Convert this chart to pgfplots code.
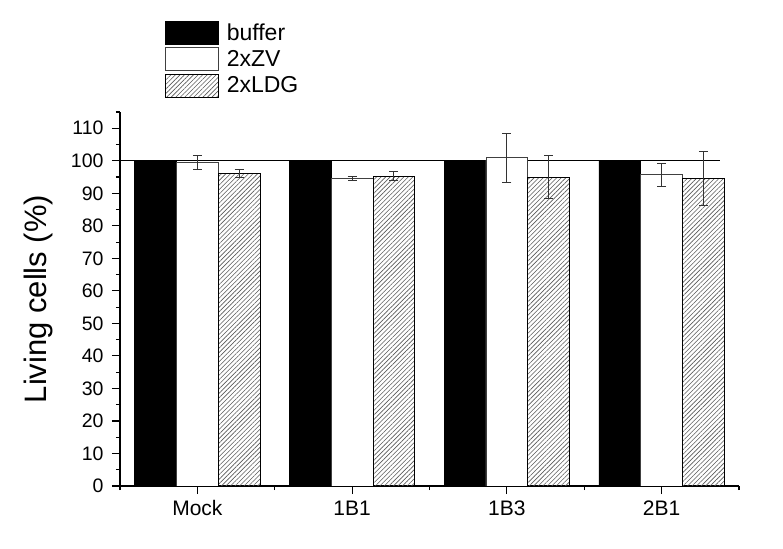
\documentclass[border=0pt]{standalone}
\usepackage{pgfplots}
\pgfplotsset{compat=1.18}
\usepackage{fontspec}
\setmainfont{Liberation Sans}
\usetikzlibrary{patterns.meta}

\begin{document}
\begin{tikzpicture}
\begin{axis}[
  scale only axis,
  width=619bp, height=374bp,
  xmin=-0.5, xmax=3.5, ymin=0, ymax=115,
  axis x line*=bottom, axis y line*=left,
  axis line style={line width=1.1bp, black, -},
  xtick={0,1,2,3}, xticklabels={Mock,1B1,1B3,2B1},
  minor xtick={-0.5,0.5,1.5,2.5,3.5},
  ytick={0,10,...,110}, minor ytick={5,15,...,115},
  tick align=outside,
  major tick length=8bp, minor tick length=4bp,
  every tick/.style={line width=1.1bp, black},
  /pgf/number format/assume math mode=true,
  yticklabel style={font=\fontsize{19.5bp}{22bp}\selectfont, xshift=-5bp},
  xticklabel style={font=\fontsize{21bp}{24bp}\selectfont, inner sep=0pt,
    text height=15bp, text depth=0pt, yshift=-6bp},
  ylabel={Living cells (\%)},
  ylabel style={font=\fontsize{31bp}{34bp}\selectfont, at={(axis description cs:-0.131,0.5)}, anchor=center},
  legend style={draw=none, fill=none, inner sep=0pt, outer sep=0pt,
    at={(axis description cs:0.0727,1.243)}, anchor=north west,
    row sep=2.5bp, column sep=8bp,
    nodes={inner sep=0pt, font=\fontsize{23bp}{26bp}\selectfont}},
  legend cell align=left,
  legend image code/.code={\draw[#1] (0bp,-11.5bp) rectangle (53bp,11.5bp);},
  error bars/error bar style={line width=1bp, black!80},
  error bars/error mark options={rotate=90, mark size=4.5bp, line width=1bp, black!80},
]
\coordinate (O) at (rel axis cs:0,0);

% reference level at 100 %
\addplot[forget plot, black, line width=1.2bp] coordinates {(-0.5,100) (3.38,100)};

% buffer (left bar of each group)
\addplot[ybar, bar width=0.27, bar shift=0, fill=black, draw=black, line width=0.8bp]
  coordinates {(-0.27,100) (0.73,100) (1.73,100) (2.73,100)};
\addlegendentry{buffer}

% 2xZV (middle bar)
\addplot[ybar, bar width=0.27, bar shift=0, fill=white, draw=black!75, line width=0.8bp,
  error bars/.cd, y dir=both, y explicit]
  coordinates {(0,99.4) +- (0,2.1) (1,94.6) +- (0,0.7) (2,100.9) +- (0,7.6) (3,95.7) +- (0,3.6)};
\addlegendentry{2xZV}

% 2xLDG (right bar)
\addplot[ybar, bar width=0.27, bar shift=0, draw=black, line width=0.8bp,
  pattern={Lines[angle=45, distance=3.2bp, line width=0.6bp]}, pattern color=black!65,
  error bars/.cd, y dir=both, y explicit]
  coordinates {(0.27,96.1) +- (0,1.1) (1.27,95.3) +- (0,1.3) (2.27,95.0) +- (0,6.7) (3.27,94.7) +- (0,8.3)};
\addlegendentry{2xLDG}
\end{axis}
\pgfresetboundingbox
\path (O) ++(-120bp,-63bp) rectangle ++(783bp,549bp);
\end{tikzpicture}
\end{document}
